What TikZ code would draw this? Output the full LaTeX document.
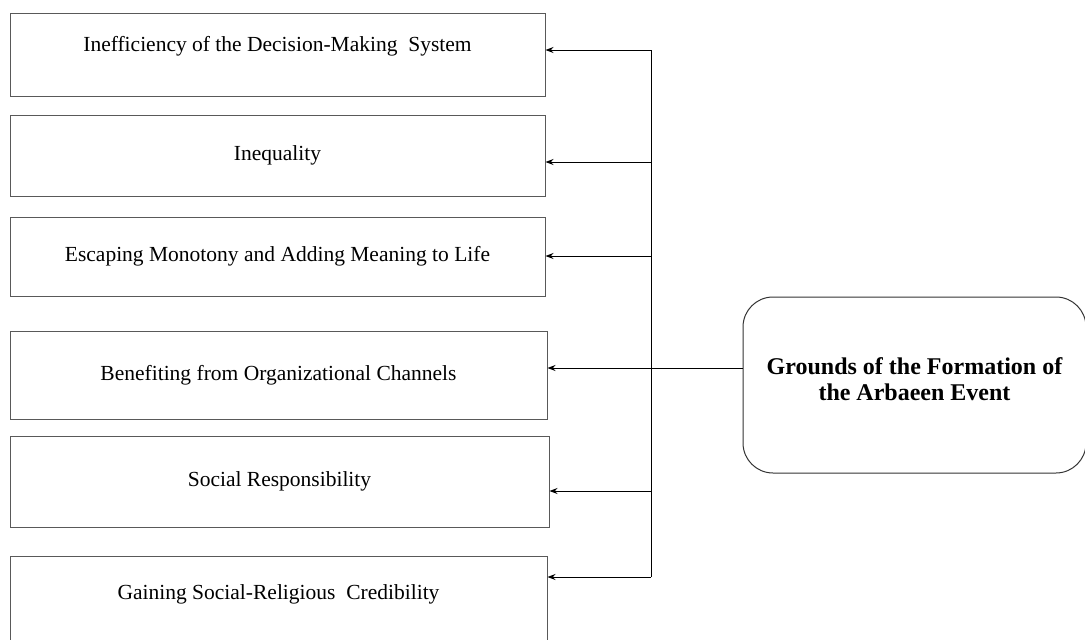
\documentclass[tikz,border=0pt]{standalone}
\usepackage{fontspec}
\setmainfont{Liberation Serif}
\usetikzlibrary{arrows.meta}

\tikzset{
  factor/.style={draw=black!65, line width=1pt, inner sep=0pt,
    font=\fontsize{21.5}{25}\selectfont},
  ground/.style={draw=black!80, line width=1pt, rounded corners=30pt,
    minimum width=343pt, minimum height=176pt, align=center,
    font=\fontsize{24}{26}\selectfont\bfseries},
  link/.style={->, line width=1pt}
}

\begin{document}
\begin{tikzpicture}[>={Stealth[length=8pt,width=6pt]}, x=1pt, y=-1pt]
\useasboundingbox (0,0) rectangle (1085,640);

% left boxes
\node[factor, minimum width=535pt, minimum height=83pt, text height=15pt, text depth=22pt] (f1) at (277.5,54.5) {Inefficiency of the Decision-Making~~System};
\node[factor, minimum width=535pt, minimum height=81pt] (f2) at (277.5,155.5) {Inequality};
\node[factor, minimum width=535pt, minimum height=79pt] (f3) at (277.5,256.5) {Escaping Monotony and Adding Meaning to Life};
\node[factor, minimum width=537pt, minimum height=88pt] (f4) at (278.5,375) {Benefiting from Organizational Channels};
\node[factor, minimum width=539pt, minimum height=91pt] (f5) at (279.5,481.5) {Social Responsibility};
\node[factor, minimum width=537pt, minimum height=89pt, text height=15pt, text depth=17pt] (f6) at (278.5,600.5) {Gaining Social-Religious~~Credibility};

% right box
\node[ground, text depth=12pt] (root) at (914.5,385) {Grounds of the Formation of\\the Arbaeen Event};

% trunk
\coordinate (j1) at (651,50);
\coordinate (j2) at (651,162);
\coordinate (j3) at (651,256);
\coordinate (j4) at (651,368);
\coordinate (j5) at (651,491);
\coordinate (j6) at (651,577);

\draw[line width=1pt] (root.west |- j4) -- (j4);
\draw[line width=1pt] (j1) -- (j6);

% arrows to the boxes
\foreach \i in {1,...,6}
  \draw[link] (j\i) -- (f\i.east |- j\i);

\end{tikzpicture}
\end{document}
